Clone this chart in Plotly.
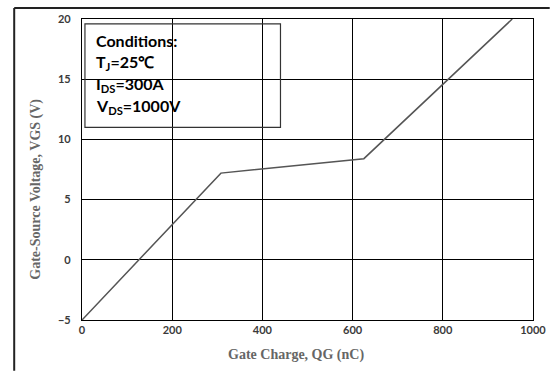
import plotly.graph_objects as go

# Data
gate_charge_nc = [0, 308, 625, 954]
vgs_volts = [-5, 7.2, 8.4, 20]

x_ticks = [0, 200, 400, 600, 800, 1000]
y_ticks = [-5, 0, 5, 10, 15, 20]

x_title = "Gate Charge, QG (nC)"
y_title = "Gate-Source Voltage, VGS (V)"

condition_lines = [
    "Conditions:",
    "T<sub>J</sub>=25\u2103",
    "I<sub>DS</sub>=300A",
    "V<sub>DS</sub>=1000V",
]

W, H = 558, 371
L, R, T, B = 82, 17, 17, 51
pw, ph = W - L - R, H - T - B


def px(xp):
    return (xp - L) / pw


def py(yp):
    return (H - B - yp) / ph


fig = go.Figure()
fig.add_trace(go.Scatter(
    x=gate_charge_nc, y=vgs_volts, mode="lines",
    line=dict(color="#555555", width=1.5),
    showlegend=False, hoverinfo="skip",
))

axis_common = dict(
    showgrid=True, gridcolor="#000000", gridwidth=1.3,
    showline=True, linecolor="#000000", linewidth=1.3, mirror=True,
    zeroline=False, ticks="",
    tickfont=dict(family="Lato, Open Sans, sans-serif", size=11, color="#3a3a3a", weight="bold"),
)

fig.update_layout(
    width=W, height=H,
    margin=dict(l=L, r=R, t=T, b=B),
    paper_bgcolor="white", plot_bgcolor="white",
    xaxis=dict(range=[0, 1000], tickvals=x_ticks, **axis_common),
    yaxis=dict(range=[-5, 20], tickvals=y_ticks, ticklabelstandoff=8, **axis_common),
)

shapes = [
    # conditions box
    dict(type="rect", xref="paper", yref="paper",
         x0=px(85), x1=px(284), y0=py(126), y1=py(22),
         line=dict(color="#333333", width=1.2), fillcolor="rgba(0,0,0,0)"),
    # outer frame lines (top and left)
    dict(type="line", xref="paper", yref="paper",
         x0=px(13), x1=px(W), y0=py(6), y1=py(6),
         line=dict(color="#222222", width=2)),
    dict(type="line", xref="paper", yref="paper",
         x0=px(13), x1=px(13), y0=py(6), y1=py(H),
         line=dict(color="#222222", width=2)),
]
fig.update_layout(shapes=shapes)

title_font = dict(family="Liberation Serif, serif", size=14, color="#666666", weight="bold")
fig.add_annotation(xref="paper", yref="paper", x=px(300), y=py(355),
                   xanchor="center", yanchor="middle", showarrow=False,
                   text=x_title, font=title_font)
fig.add_annotation(xref="paper", yref="paper", x=px(35), y=py(188),
                   xanchor="center", yanchor="middle", showarrow=False,
                   text=y_title, textangle=-90, font=title_font)

line_y = [39, 61, 83, 105]
for txt, yy in zip(condition_lines, line_y):
    fig.add_annotation(
        xref="paper", yref="paper", x=px(94), y=py(yy),
        xanchor="left", yanchor="middle", showarrow=False,
        text=txt, align="left",
        font=dict(family="Lato, Open Sans, sans-serif", size=16, color="#000000", weight="bold"),
    )

fig.write_html("out.html")
